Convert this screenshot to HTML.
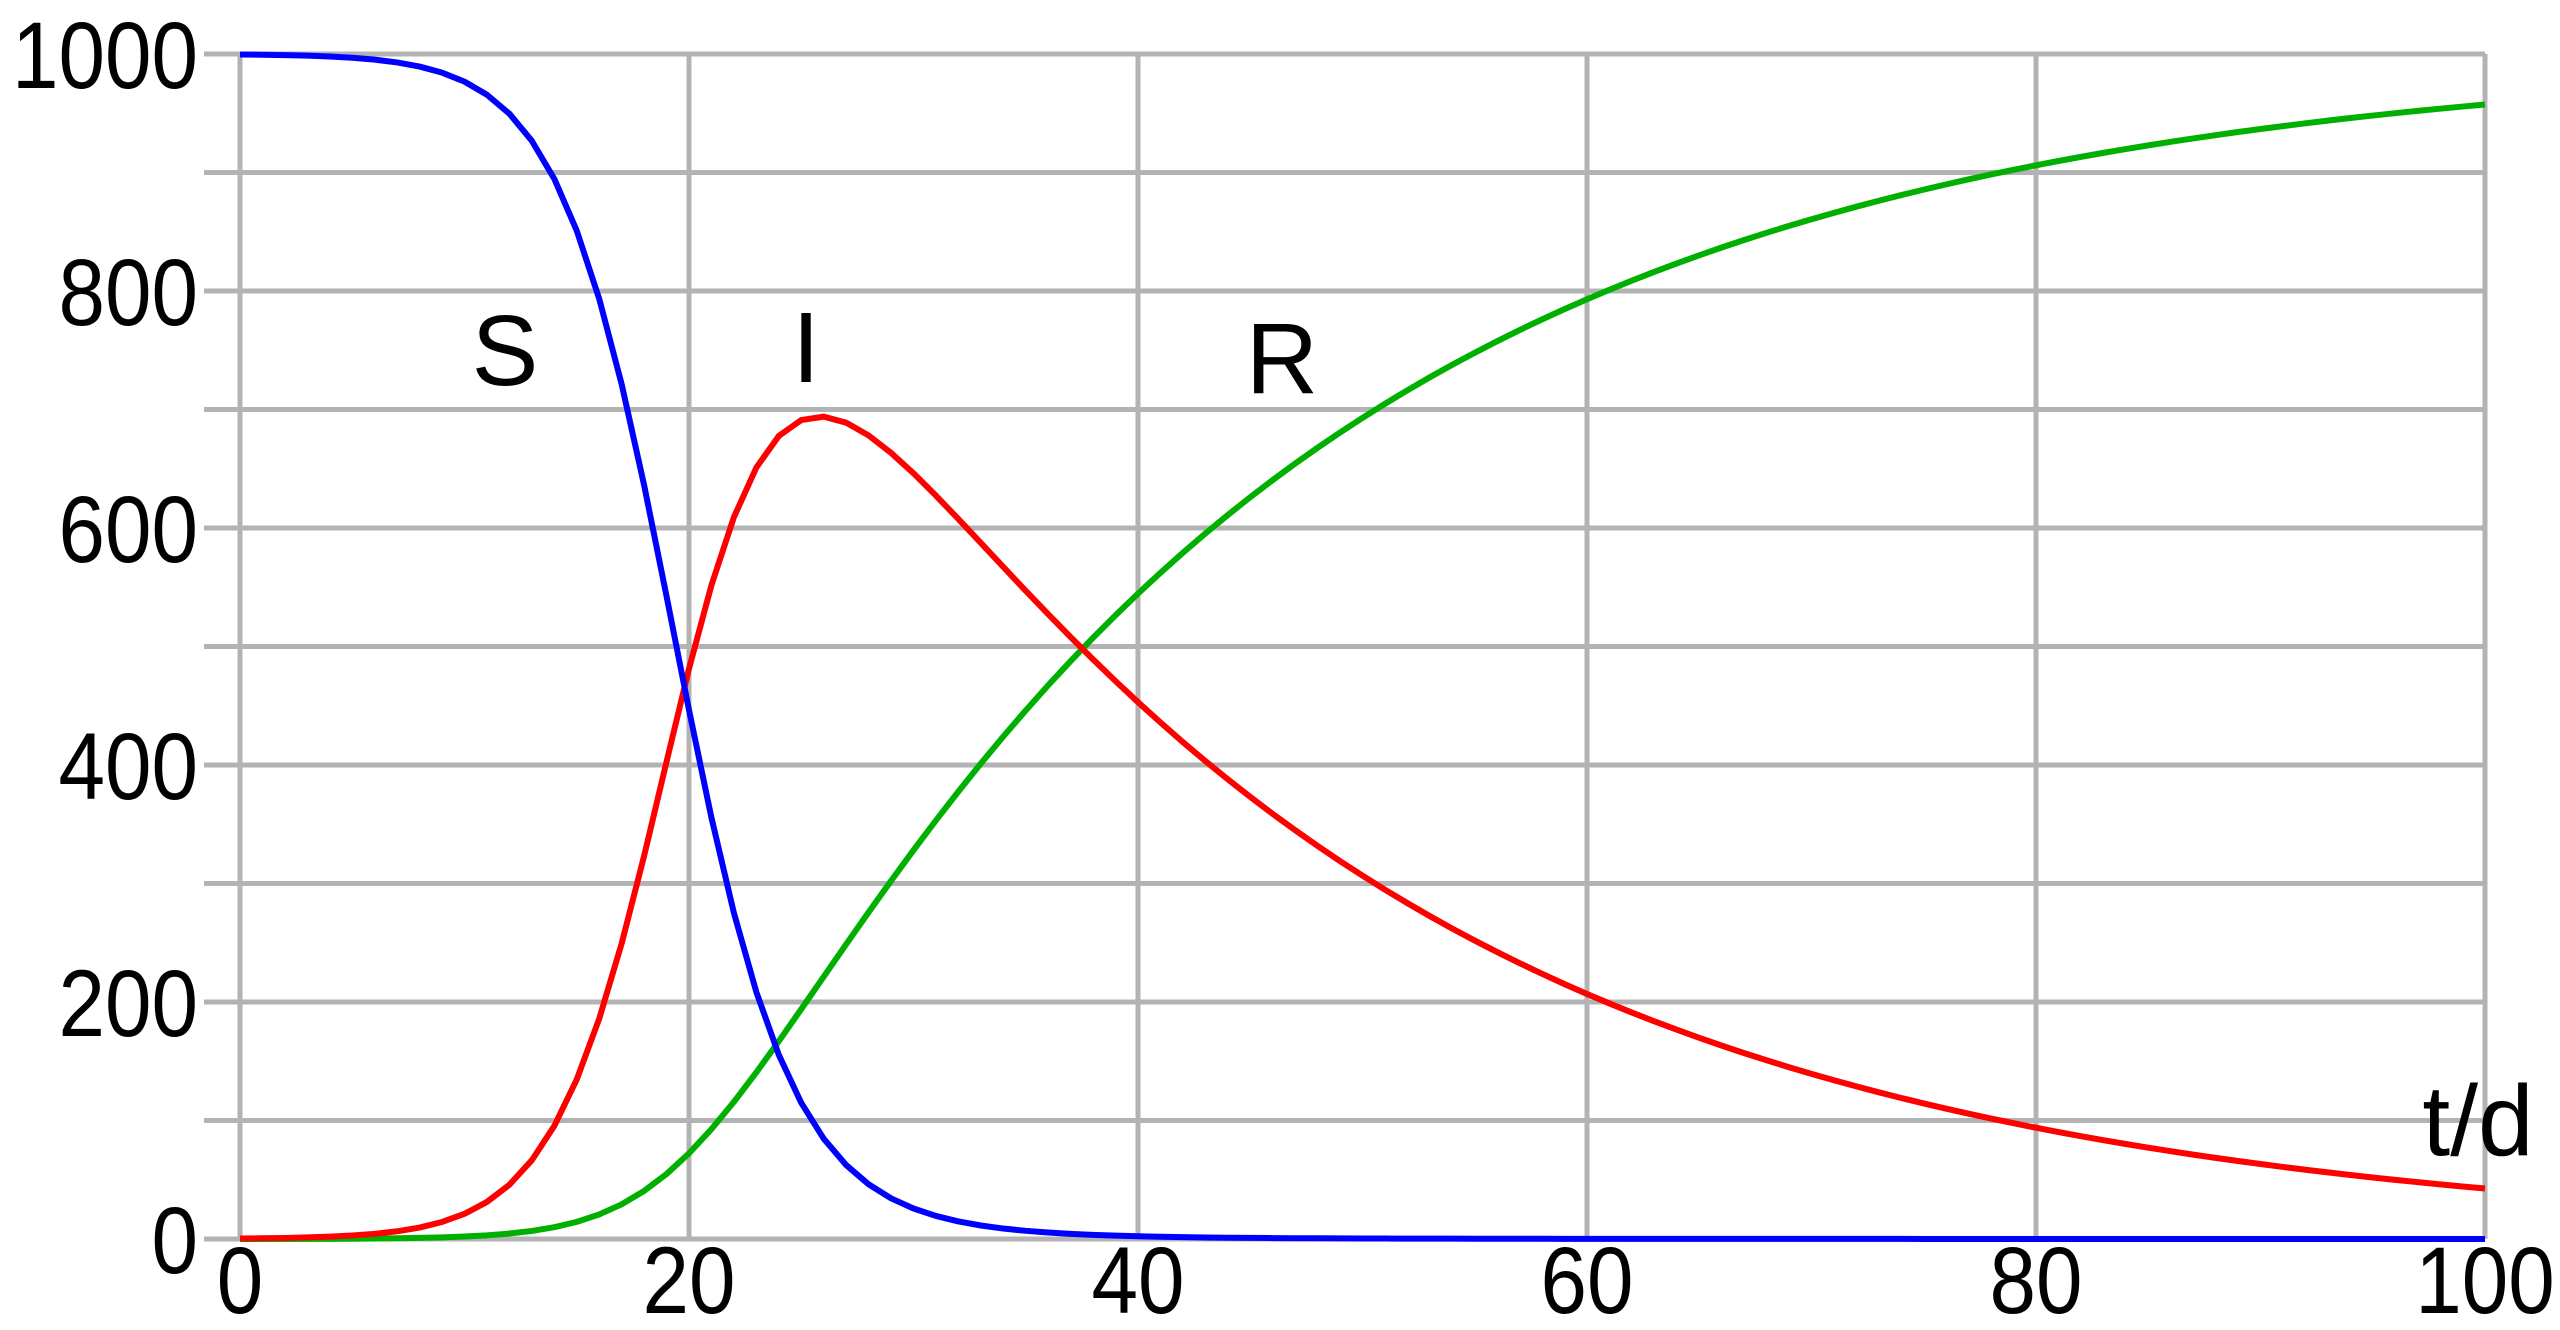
<!DOCTYPE html>
<html><head><meta charset="utf-8"><style>
html,body{margin:0;padding:0;background:#fff;width:2560px;height:1330px;overflow:hidden}
svg{display:block}
text{font-family:"Liberation Sans",sans-serif;fill:#000}
</style></head><body>
<svg id="s" width="2560" height="1330" viewBox="0 0 2560 1330">
<g id="grid" stroke="#b3b3b3" stroke-width="5"></g>
<g id="lab" font-size="95"></g>
<polyline id="R" fill="none" stroke="#00b000" stroke-width="6" stroke-linejoin="round"/>
<polyline id="I" fill="none" stroke="#ff0000" stroke-width="6" stroke-linejoin="round"/>
<polyline id="S" fill="none" stroke="#0000ff" stroke-width="6" stroke-linejoin="round"/>
<text x="505" y="385" font-size="100" text-anchor="middle">S</text>
<text x="806" y="382" font-size="100" text-anchor="middle">I</text>
<text x="1282" y="393" font-size="100" text-anchor="middle">R</text>
<text x="2478" y="1155" font-size="100" text-anchor="middle">t/d</text>
</svg>
<script>
var x0=240,x1=2485,y0=1239,y1=54;
function X(t){return x0+(x1-x0)*t/100}
function Y(v){return y0+(y1-y0)*v/1000}
var ns="http://www.w3.org/2000/svg",g=document.getElementById('grid'),lab=document.getElementById('lab');
function el(p,tag,a,txt){var e=document.createElementNS(ns,tag);for(var k in a)e.setAttribute(k,a[k]);if(txt!=null)e.textContent=txt;p.appendChild(e);return e}
for(var v=0;v<=1000;v+=100){el(g,'line',{x1:204,x2:x1,y1:Y(v),y2:Y(v)});}
for(var t=0;t<=100;t+=20){var c=X(t);el(lab,'text',{x:0,y:0,'text-anchor':'middle',transform:'translate('+c+',1313) scale(0.88,1)'},t);el(g,'line',{x1:c,x2:c,y1:y1,y2:y0});}
for(var v=0;v<=1000;v+=200){el(lab,'text',{x:0,y:0,'text-anchor':'end',transform:'translate(198,'+(Y(v)+34)+') scale(0.88,1)'},v);}
var b=0.44,gm=0.0395,N=1000,S=999.6,I=0.4,R=0,dt=0.01,ps=[],pi=[],pr=[];
for(var k=0;k<=10000;k++){
 var t=k*dt;
 if(k%100==0){ps.push(X(t)+','+Y(S));pi.push(X(t)+','+Y(I));pr.push(X(t)+','+Y(R));}
 var dS=-b*S*I/N,dI=b*S*I/N-gm*I,dR=gm*I;
 S+=dS*dt;I+=dI*dt;R+=dR*dt;
}
document.getElementById('S').setAttribute('points',ps.join(' '));
document.getElementById('I').setAttribute('points',pi.join(' '));
document.getElementById('R').setAttribute('points',pr.join(' '));
</script>
</body></html>
